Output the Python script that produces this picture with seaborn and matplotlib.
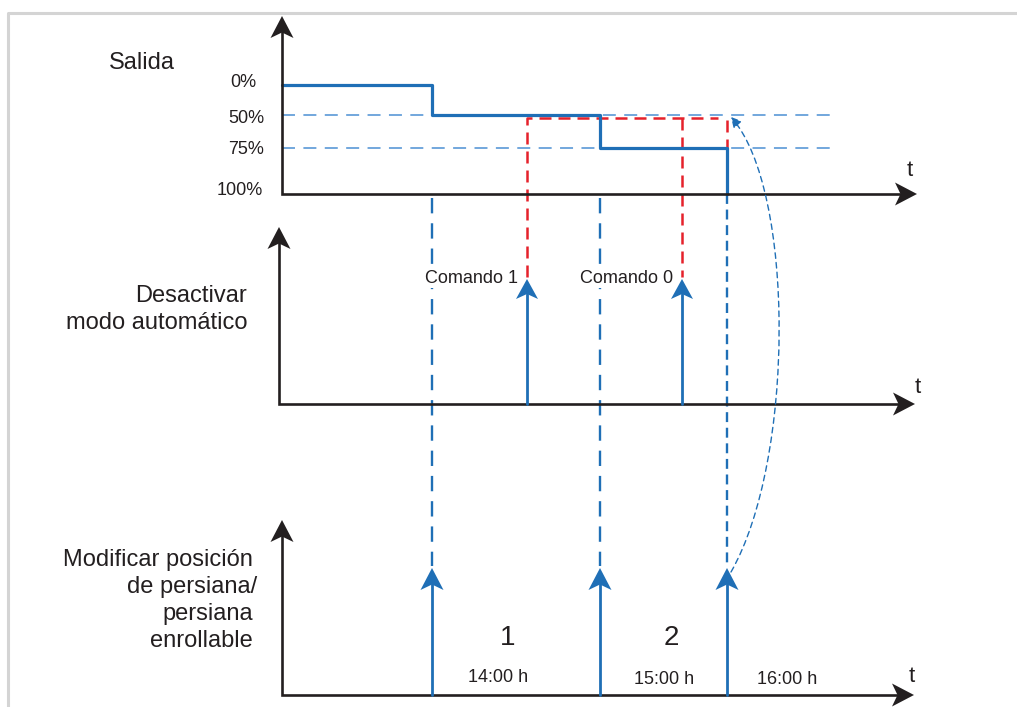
import matplotlib
matplotlib.use("Agg")
import matplotlib.pyplot as plt
import seaborn as sns
from matplotlib.path import Path
from matplotlib.patches import FancyArrowPatch

# diagram units: one unit = one pixel of the 1017x707 canvas, y grows downwards
AXES_X = [282, 279, 282]          # time-axis origins of the three panels
AXES_Y = [194, 404, 695]          # baseline of each panel
AXES_TOP = [16, 227, 520]         # tip of each vertical arrow
AXES_END = [917, 915, 914]        # tip of each time arrow
T_LABEL_POS = [(910, 176), (918, 393), (912, 682)]

LEVEL_LABELS = ["0%", "50%", "75%", "100%"]
LEVEL_Y = [85, 115, 148, 194]
LEVEL_LABEL_X = [256, 264, 264, 263]
LEVEL_LABEL_BASE = [87, 123, 154, 195]

STEP_X = [282, 432, 432, 600, 600, 727, 727]
STEP_Y = [85, 85, 115, 115, 148, 148, 194]

AUTO_EVENTS = [432, 600, 727]
AUTO_TIP = 568
COMMANDS = [527, 682]
COMMAND_TIP = 279
COMMAND_LABELS = ["Comando 1", "Comando 0"]
COMMAND_LABEL_RIGHT = [518, 673]

PERIOD_NUMBERS = ["1", "2"]
PERIOD_X = [508, 671]
TIME_LABELS = ["14:00 h", "15:00 h", "16:00 h"]
TIME_LABEL_X = [498, 664, 787]
TIME_LABEL_BASE = [682, 684, 684]

RED_LEVEL = 118
REF_LINE_END = 838

BLACK = "#231f20"
BLUE = "#1f6fb6"
LIGHT_BLUE = "#4b8fd3"
RED = "#e5212b"

sns.set_theme(style="white")
plt.rcParams["font.family"] = ["Liberation Sans", "DejaVu Sans"]

fig = plt.figure(figsize=(10.17, 7.07), dpi=100)
ax = fig.add_axes([0, 0, 1, 1])
ax.set_xlim(0, 1017)
ax.set_ylim(707, 0)
ax.axis("off")


def head(x, y, direction, color, length=22, width=23, notch=0.75):
    # stealth style arrow head, tip at (x, y)
    if direction == "up":
        pts = [(x, y), (x + width / 2, y + length), (x, y + length * notch),
               (x - width / 2, y + length)]
    else:
        pts = [(x, y), (x - length, y - width / 2), (x - length * notch, y),
               (x - length, y + width / 2)]
    xs, ys = zip(*pts)
    ax.fill(xs, ys, color=color, lw=0, zorder=6)


# light grey frame
ax.plot([8, 8, 1017], [707, 13, 13], color="#d4d4d4", lw=2.2, zorder=0)

# panel axes
for x0, y0, top, end in zip(AXES_X, AXES_Y, AXES_TOP, AXES_END):
    ax.plot([x0, x0, end - 15], [top + 15, y0, y0], color=BLACK, lw=1.9,
            solid_joinstyle="miter", zorder=5)
    head(x0, top, "up", BLACK)
    head(end, y0, "right", BLACK)
for (tx, ty) in T_LABEL_POS:
    ax.text(tx, ty, "t", fontsize=16, color=BLACK, ha="center", va="baseline")

# reference levels of the output
for lab, lx, lb in zip(LEVEL_LABELS, LEVEL_LABEL_X, LEVEL_LABEL_BASE):
    ax.text(lx, lb, lab, fontsize=13, color=BLACK, ha="right", va="baseline")
for ly in LEVEL_Y[1:3]:
    ax.plot([AXES_X[0], REF_LINE_END], [ly, ly], color=LIGHT_BLUE, lw=1.1,
            ls=(0, (8.5, 5.5)), zorder=2)

# output position step line
sns.lineplot(x=STEP_X, y=STEP_Y, sort=False, estimator=None, color=BLUE,
             lw=2.3, ax=ax, zorder=4)

# manual commands shift the position (red)
ax.plot([COMMANDS[0], COMMANDS[0], AUTO_EVENTS[2] - 9],
        [COMMAND_TIP - 2, RED_LEVEL, RED_LEVEL], color=RED, lw=1.8,
        ls=(0, (4.8, 2.8)), zorder=3)
ax.plot([COMMANDS[1], COMMANDS[1]], [RED_LEVEL, COMMAND_TIP - 2], color=RED,
        lw=1.8, ls=(0, (4.8, 2.8)), zorder=3)
ax.plot([AUTO_EVENTS[2], AUTO_EVENTS[2]], [RED_LEVEL + 2, STEP_Y[4]],
        color=RED, lw=1.8, ls=(0, (4.8, 2.8)), zorder=3)

# commands in the middle panel
for cx, lab, lr in zip(COMMANDS, COMMAND_LABELS, COMMAND_LABEL_RIGHT):
    ax.plot([cx, cx], [AXES_Y[1], COMMAND_TIP + 15], color=BLUE, lw=2.0,
            zorder=5)
    head(cx, COMMAND_TIP, "up", BLUE, length=20, width=22)
    ax.text(lr, 283, lab, fontsize=13, color=BLACK, ha="right", va="baseline",
            zorder=7, bbox=dict(fc="white", ec="none", pad=1))

# automatic events: arrows in the bottom panel and dashed links upwards
for i, ex in enumerate(AUTO_EVENTS):
    ax.plot([ex, ex], [AXES_Y[2], AUTO_TIP + 16], color=BLUE, lw=2.0, zorder=5)
    head(ex, AUTO_TIP, "up", BLUE)
    if i < 2:
        ax.plot([ex, ex], [AXES_Y[0] + 4, AUTO_TIP - 2], color=BLUE, lw=1.7,
                ls=(0, (6.5, 4.2)), zorder=2)
    else:
        ax.plot([ex, ex], [AXES_Y[0], AUTO_TIP - 2], color=BLUE, lw=1.7,
                ls=(0, (4.2, 2.4)), zorder=2)

# return to the previous position after the automatic move
curve = Path([(731, 572), (795, 460), (795, 190), (731, 117)],
             [Path.MOVETO, Path.CURVE4, Path.CURVE4, Path.CURVE4])
ax.add_patch(FancyArrowPatch(path=curve, arrowstyle="-|>,head_length=6,head_width=3.2",
                             color=BLUE, lw=1.0, ls=(0, (4, 3)), zorder=6))

for px, num in zip(PERIOD_X, PERIOD_NUMBERS):
    ax.text(px, 645, num, fontsize=20, color=BLACK, ha="center", va="baseline")
for tx, lab, tb in zip(TIME_LABEL_X, TIME_LABELS, TIME_LABEL_BASE):
    ax.text(tx, tb, lab, fontsize=13, color=BLACK, ha="center", va="baseline")

# panel titles
ax.text(142, 69, "Salida", fontsize=17, color=BLACK, ha="center", va="baseline")
for line, base in zip(["Desactivar", "modo automático"], [302, 329]):
    ax.text(247, base, line, fontsize=17, color=BLACK, ha="right", va="baseline")
for line, base in zip(["Modificar posición", "de persiana/", "persiana", "enrollable"],
                      [566, 593, 620, 647]):
    ax.text(253 + (4 if line.endswith("/") else 0), base, line, fontsize=17,
            color=BLACK, ha="right", va="baseline")

fig.savefig("out.png", dpi=100)
